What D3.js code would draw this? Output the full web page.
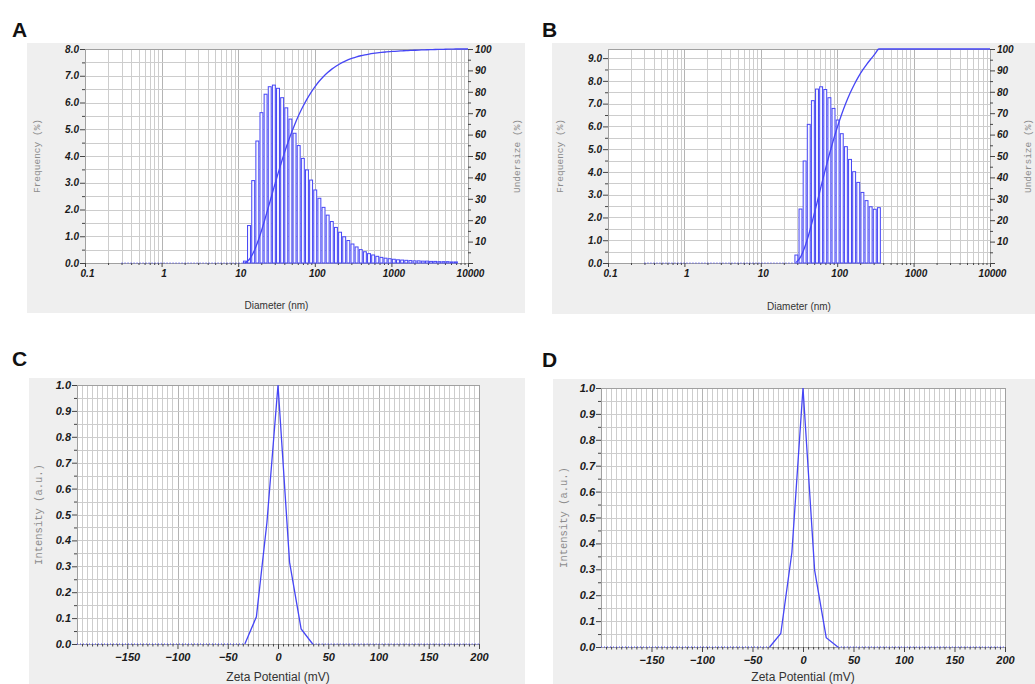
<!DOCTYPE html>
<html>
<head>
<meta charset="utf-8">
<script src="https://cdn.jsdelivr.net/npm/d3@7"></script>
<style>
  body { margin: 0; background: #fff; }
  svg { display: block; font-family: "Liberation Sans", Arial, sans-serif; }
</style>
</head>
<body>
<svg id="chart" width="1035" height="684"></svg>
<script>
// ---- data ----
var panelLetters = ["A", "B", "C", "D"];

// histogram bin edges (nm), shared by A and B
var diameterEdges = [11.5, 13.0, 14.75, 16.7, 18.91, 21.41, 24.25, 27.46, 31.09, 35.21, 39.87, 45.15,
    51.13, 57.9, 65.56, 74.24, 84.07, 95.2, 107.8, 122.1, 138.3, 156.6, 177.3, 200.8, 227.4, 257.5,
    291.6, 330.2, 373.9, 423.4, 479.5, 543.0, 614.9, 696.3, 788.5, 892.9, 1011, 1145, 1297, 1468,
    1663, 1883, 2132, 2415, 2734, 3096, 3506, 3971, 4496, 5092, 5766, 6529, 7394];

// frequency (%) per bin, panel A starts at the first edge
var freqA = [0.07, 1.40, 3.08, 4.56, 5.62, 6.31, 6.59, 6.65, 6.53, 6.18, 5.80, 5.38, 4.85, 4.39,
    3.91, 3.48, 3.10, 2.73, 2.42, 2.08, 1.79, 1.55, 1.33, 1.15, 0.98, 0.84, 0.71, 0.60, 0.50, 0.42,
    0.35, 0.30, 0.25, 0.21, 0.18, 0.16, 0.14, 0.12, 0.11, 0.10, 0.09, 0.08, 0.08, 0.07, 0.07, 0.06,
    0.06, 0.05, 0.05, 0.05, 0.04, 0.04];

// panel B starts at edge index 7 (27.46 nm)
var firstBinB = 7;
var freqB = [0.35, 2.37, 4.48, 6.09, 7.13, 7.64, 7.74, 7.62, 7.26, 6.79, 6.28, 5.68, 5.11, 4.55,
    4.01, 3.54, 3.10, 2.74, 2.47, 2.36, 2.43];

var zetaC = [-33, -21.5, -11, 0, 11.5, 23, 34.5];
var intensityC = [0, 0.105, 0.47, 1.0, 0.316, 0.058, 0];
var zetaD = [-33, -22, -11, 0, 11.5, 23, 34.5];
var intensityD = [0, 0.052, 0.365, 1.0, 0.297, 0.036, 0];

var diameterTicks = [0.1, 1, 10, 100, 1000, 10000];
var freqTicksA = [0, 1, 2, 3, 4, 5, 6, 7, 8];
var freqTicksB = [0, 1, 2, 3, 4, 5, 6, 7, 8, 9];
var undersizeTicks = [0, 10, 20, 30, 40, 50, 60, 70, 80, 90, 100];
var zetaTicks = [-150, -100, -50, 0, 50, 100, 150, 200];
var intensityTicks = [0, 0.1, 0.2, 0.3, 0.4, 0.5, 0.6, 0.7, 0.8, 0.9, 1.0];

// ---- drawing ----
var blue = "#4646f5";
var gridColor = "#cdcdcd";
var svg = d3.select("#chart");

svg.append("rect").attr("width", 1035).attr("height", 684).attr("fill", "#fff");

function styleAxis(g, fontSize) {
    g.select(".domain").remove();
    g.selectAll("line").attr("stroke", "#444");
    g.selectAll("text")
        .attr("font-family", "'Liberation Sans', Arial, sans-serif")
        .attr("font-size", fontSize)
        .attr("font-weight", "bold")
        .attr("font-style", "italic")
        .attr("fill", "#1a1a1a");
}

function sizePanel(p) {
    var g = svg.append("g");
    g.append("rect")
        .attr("x", p.box[0]).attr("y", p.box[1])
        .attr("width", p.box[2]).attr("height", p.box[3])
        .attr("fill", "#efefef");

    var x = d3.scaleLog().domain([0.1, 10000]).range([p.left, p.right]);
    var y = d3.scaleLinear().domain([0, p.yMax]).range([p.bottom, p.top]);
    var yU = d3.scaleLinear().domain([0, 100]).range([p.bottom, p.top]);

    g.append("rect")
        .attr("x", p.left).attr("y", p.top)
        .attr("width", p.right - p.left).attr("height", p.bottom - p.top)
        .attr("fill", "#fff");

    // grid
    g.append("g").selectAll("line")
        .data(x.ticks())
        .enter().append("line")
        .attr("x1", function(d) { return Math.round(x(d)) + 0.5; })
        .attr("x2", function(d) { return Math.round(x(d)) + 0.5; })
        .attr("y1", p.top).attr("y2", p.bottom)
        .attr("stroke", function(d) { return diameterTicks.indexOf(d) >= 0 ? "#b4b4b4" : gridColor; });
    g.append("g").selectAll("line")
        .data(d3.range(0, p.yMax, 0.5))
        .enter().append("line")
        .attr("x1", p.left).attr("x2", p.right)
        .attr("y1", function(d) { return Math.round(y(d)) + 0.5; })
        .attr("y2", function(d) { return Math.round(y(d)) + 0.5; })
        .attr("stroke", gridColor);
    g.append("rect")
        .attr("x", p.left + 0.5).attr("y", p.top + 0.5)
        .attr("width", p.right - p.left).attr("height", p.bottom - p.top)
        .attr("fill", "none").attr("stroke", "#a0a0a0");

    // axes
    var left = g.append("g").attr("transform", "translate(" + p.left + ",0)")
        .call(d3.axisLeft(y).tickValues(p.freqTicks).tickFormat(d3.format(".1f")).tickSize(5).tickPadding(1));
    styleAxis(left, 10);
    var leftMinor = g.append("g").attr("transform", "translate(" + p.left + ",0)")
        .call(d3.axisLeft(y).tickValues(d3.range(0.5, p.yMax, 1)).tickFormat("").tickSize(3));
    styleAxis(leftMinor, 10);

    var right = g.append("g").attr("transform", "translate(" + p.right + ",0)")
        .call(d3.axisRight(yU).tickValues(undersizeTicks)
            .tickFormat(function(d) { return d === 0 ? "" : d; }).tickSize(5).tickPadding(2));
    styleAxis(right, 10);
    var rightMinor = g.append("g").attr("transform", "translate(" + p.right + ",0)")
        .call(d3.axisRight(yU).tickValues(d3.range(5, 100, 10)).tickFormat("").tickSize(3));
    styleAxis(rightMinor, 10);

    var bottom = g.append("g").attr("transform", "translate(0," + p.bottom + ")")
        .call(d3.axisBottom(x).tickValues(diameterTicks)
            .tickFormat(function(d) { return d < 1 ? "0.1" : d; }).tickSize(4).tickPadding(3));
    styleAxis(bottom, 10);
    bottom.selectAll("text").attr("dx", 2);
    var bottomMinor = g.append("g").attr("transform", "translate(0," + p.bottom + ")")
        .call(d3.axisBottom(x).tickValues(x.ticks().filter(function(d) { return diameterTicks.indexOf(d) < 0; }))
            .tickFormat("").tickSize(2));
    styleAxis(bottomMinor, 10);

    // zero baseline before the first bar
    g.append("line")
        .attr("x1", x(0.3)).attr("x2", x(p.edges[0]))
        .attr("y1", p.bottom).attr("y2", p.bottom)
        .attr("stroke", blue).attr("stroke-width", 1.2).attr("stroke-dasharray", "1,2");

    // bars
    var bins = p.freq.map(function(f, i) { return { lo: p.edges[i], hi: p.edges[i + 1], f: f }; });
    g.append("g").selectAll("rect")
        .data(bins)
        .enter().append("rect")
        .attr("x", function(d) { return x(d.lo) + 0.6; })
        .attr("width", function(d) { return x(d.hi) - x(d.lo) - 1.2; })
        .attr("y", function(d) { return y(d.f); })
        .attr("height", function(d) { return p.bottom - y(d.f); })
        .attr("fill", "#f7f7ff")
        .attr("stroke", blue)
        .attr("stroke-width", 1);

    // undersize curve from the cumulative frequency
    var cum = Array.from(d3.cumsum(p.freq));
    var total = cum[cum.length - 1];
    var pts = bins.map(function(d, i) { return [Math.sqrt(d.lo * d.hi), cum[i] / total * 100]; });
    pts.push([10000, 100]);
    g.append("path")
        .datum(pts)
        .attr("fill", "none")
        .attr("stroke", blue)
        .attr("stroke-width", 1.3)
        .attr("d", d3.line()
            .x(function(d) { return x(d[0]); })
            .y(function(d) { return yU(d[1]); })
            .curve(d3.curveMonotoneX));

    // titles
    g.append("text")
        .attr("x", (p.left + p.right) / 2).attr("y", p.box[1] + p.box[3] - 4)
        .attr("text-anchor", "middle")
        .attr("font-size", 10).attr("fill", "#333")
        .text("Diameter (nm)");
    g.append("text")
        .attr("transform", "translate(" + p.leftTitleX + "," + (p.top + p.bottom) / 2 + ") rotate(-90)")
        .attr("text-anchor", "middle")
        .attr("font-family", "'Liberation Mono', 'DejaVu Sans Mono', monospace")
        .attr("font-size", 9.5).attr("fill", "#8c8c8c")
        .text("Frequency (%)");
    g.append("text")
        .attr("transform", "translate(" + p.rightTitleX + "," + (p.top + p.bottom) / 2 + ") rotate(-90)")
        .attr("text-anchor", "middle")
        .attr("font-family", "'Liberation Mono', 'DejaVu Sans Mono', monospace")
        .attr("font-size", 9.5).attr("fill", "#8c8c8c")
        .text("Undersize (%)");
}

function zetaPanel(p) {
    var g = svg.append("g");
    g.append("rect")
        .attr("x", p.box[0]).attr("y", p.box[1])
        .attr("width", p.box[2]).attr("height", p.box[3])
        .attr("fill", "#efefef");

    var x = d3.scaleLinear().domain([-200, 200]).range([p.left, p.right]);
    var y = d3.scaleLinear().domain([0, 1]).range([p.bottom, p.top]);

    g.append("rect")
        .attr("x", p.left).attr("y", p.top)
        .attr("width", p.right - p.left).attr("height", p.bottom - p.top)
        .attr("fill", "#fff");

    g.append("g").selectAll("line")
        .data(d3.range(-200, 201, 5))
        .enter().append("line")
        .attr("x1", function(d) { return Math.round(x(d)) + 0.5; })
        .attr("x2", function(d) { return Math.round(x(d)) + 0.5; })
        .attr("y1", p.top).attr("y2", p.bottom)
        .attr("stroke", function(d) { return d % 50 === 0 ? "#b4b4b4" : gridColor; });
    g.append("g").selectAll("line")
        .data(d3.range(0, 1.001, 0.05))
        .enter().append("line")
        .attr("x1", p.left).attr("x2", p.right)
        .attr("y1", function(d) { return Math.round(y(d)) + 0.5; })
        .attr("y2", function(d) { return Math.round(y(d)) + 0.5; })
        .attr("stroke", gridColor);
    g.append("rect")
        .attr("x", p.left + 0.5).attr("y", p.top + 0.5)
        .attr("width", p.right - p.left).attr("height", p.bottom - p.top)
        .attr("fill", "none").attr("stroke", "#a0a0a0");

    var left = g.append("g").attr("transform", "translate(" + p.left + ",0)")
        .call(d3.axisLeft(y).tickValues(intensityTicks).tickFormat(d3.format(".1f")).tickSize(5).tickPadding(1));
    styleAxis(left, 11);
    var leftMinor = g.append("g").attr("transform", "translate(" + p.left + ",0)")
        .call(d3.axisLeft(y).tickValues(d3.range(0.05, 1, 0.1)).tickFormat("").tickSize(3));
    styleAxis(leftMinor, 11);

    var bottom = g.append("g").attr("transform", "translate(0," + p.bottom + ")")
        .call(d3.axisBottom(x).tickValues(zetaTicks).tickSize(5).tickPadding(4));
    styleAxis(bottom, 11);
    var bottomMinor = g.append("g").attr("transform", "translate(0," + p.bottom + ")")
        .call(d3.axisBottom(x).tickValues(d3.range(-200, 201, 5).filter(function(d) { return d % 50 !== 0; }))
            .tickFormat("").tickSize(2.5));
    styleAxis(bottomMinor, 11);

    // dotted zero level outside the peak
    [[-200, p.zeta[0]], [p.zeta[p.zeta.length - 1], 200]].forEach(function(seg) {
        g.append("line")
            .attr("x1", x(seg[0])).attr("x2", x(seg[1]))
            .attr("y1", p.bottom).attr("y2", p.bottom)
            .attr("stroke", blue).attr("stroke-width", 1.2).attr("stroke-dasharray", "1,2");
    });

    g.append("path")
        .datum(p.zeta.map(function(z, i) { return [z, p.intensity[i]]; }))
        .attr("fill", "none")
        .attr("stroke", blue)
        .attr("stroke-width", 1.3)
        .attr("d", d3.line()
            .x(function(d) { return x(d[0]); })
            .y(function(d) { return y(d[1]); }));

    g.append("text")
        .attr("x", (p.left + p.right) / 2).attr("y", p.titleY)
        .attr("text-anchor", "middle")
        .attr("font-size", 12).attr("fill", "#333")
        .text("Zeta Potential (mV)");
    g.append("text")
        .attr("transform", "translate(" + p.leftTitleX + "," + (p.top + p.bottom) / 2 + ") rotate(-90)")
        .attr("text-anchor", "middle")
        .attr("font-family", "'Liberation Mono', 'DejaVu Sans Mono', monospace")
        .attr("font-size", 10.5).attr("fill", "#8c8c8c")
        .text("Intensity (a.u.)");
}

sizePanel({
    box: [27, 43, 498, 270], left: 85, right: 468, top: 49, bottom: 263, yMax: 8.0,
    freqTicks: freqTicksA, freq: freqA, edges: diameterEdges,
    leftTitleX: 40, rightTitleX: 520
});
sizePanel({
    box: [552, 43, 483, 271], left: 608, right: 990, top: 49, bottom: 263, yMax: 9.4,
    freqTicks: freqTicksB, freq: freqB,
    edges: diameterEdges.slice(firstBinB, firstBinB + freqB.length + 1),
    leftTitleX: 563, rightTitleX: 1031
});
zetaPanel({
    box: [29, 378, 496, 306], left: 77, right: 479, top: 385, bottom: 644,
    zeta: zetaC, intensity: intensityC, titleY: 681, leftTitleX: 42
});
zetaPanel({
    box: [553, 379, 482, 305], left: 601, right: 1005, top: 388, bottom: 647,
    zeta: zetaD, intensity: intensityD, titleY: 681, leftTitleX: 567
});

// panel letters
var letterPos = [[12, 37], [542, 37], [12, 366], [542, 367]];
svg.selectAll(".letter")
    .data(panelLetters)
    .enter().append("text")
    .attr("class", "letter")
    .attr("x", function(d, i) { return letterPos[i][0]; })
    .attr("y", function(d, i) { return letterPos[i][1]; })
    .attr("font-size", 21)
    .attr("font-weight", "bold")
    .attr("fill", "#111")
    .text(function(d) { return d; });
</script>
</body>
</html>
